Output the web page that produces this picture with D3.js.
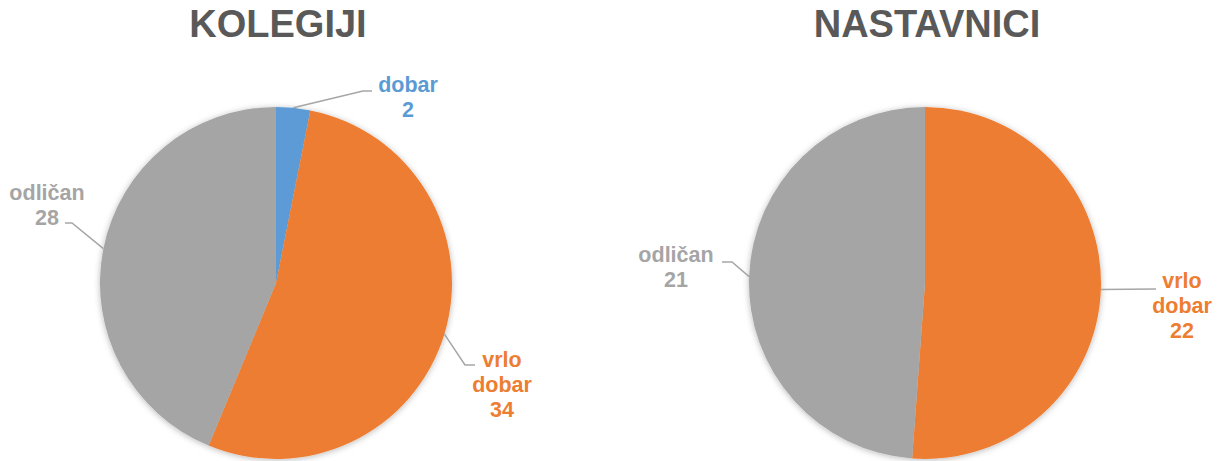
<!DOCTYPE html>
<html lang="hr">
<head>
<meta charset="UTF-8">
<title>Kolegiji / Nastavnici</title>
<script src="https://cdn.jsdelivr.net/npm/d3@7"></script>
<style>
    html, body { margin: 0; padding: 0; background: #ffffff; }
    svg { display: block; font-family: "Liberation Sans", Arial, sans-serif; }
</style>
</head>
<body>
<svg id="chart" width="1224" height="461"></svg>
<script>
// podaci
var categories = ['dobar', 'vrlo dobar', 'odličan'];
var kolegijiValues = [2, 34, 28];
var nastavniciValues = [0, 22, 21];
var titles = ['KOLEGIJI', 'NASTAVNICI'];

var colors = d3.scaleOrdinal()
    .domain(categories)
    .range(['#5b9bd5', '#ed7d31', '#a5a5a5']);

var svg = d3.select('#chart');

// sjena oko pite
var defs = svg.append('defs');
var f = defs.append('filter').attr('id', 'shadow')
    .attr('x', '-20%').attr('y', '-20%').attr('width', '140%').attr('height', '140%');
f.append('feDropShadow')
    .attr('dx', 0).attr('dy', 1)
    .attr('stdDeviation', 3)
    .attr('flood-color', '#000').attr('flood-opacity', 0.28);

var radius = 176;

// raspored oznaka (lakat linije, sredina teksta, prvi baseline)
var charts = [
    {
        title: titles[0], values: kolegijiValues, cx: 276, cy: 283, titleX: 278,
        labels: {
            'dobar':      {elbow: [363, 91], end: [372, 91], tx: 408, ty: 92, lines: ['dobar']},
            'vrlo dobar': {elbow: [465, 365], end: [475, 365], tx: 502, ty: 367, lines: ['vrlo', 'dobar']},
            'odličan':    {elbow: [72, 223], end: [65, 223], tx: 47, ty: 200, lines: ['odličan']}
        }
    },
    {
        title: titles[1], values: nastavniciValues, cx: 925, cy: 283, titleX: 927,
        labels: {
            'vrlo dobar': {elbow: null, end: [1156, 289], tx: 1182, ty: 288, lines: ['vrlo', 'dobar']},
            'odličan':    {elbow: [732, 262], end: [722, 262], tx: 676, ty: 262, lines: ['odličan']}
        }
    }
];

var pie = d3.pie().sort(null).value(function (d) { return d.value; });
var arc = d3.arc().innerRadius(0).outerRadius(radius);

charts.forEach(function (c) {
    var data = categories.map(function (k, i) { return {key: k, value: c.values[i]}; });
    var arcs = pie(data);

    svg.append('text')
        .attr('x', c.titleX)
        .attr('y', 37)
        .attr('text-anchor', 'middle')
        .attr('font-size', 38)
        .attr('font-weight', 'bold')
        .attr('fill', '#595959')
        .text(c.title);

    var g = svg.append('g').attr('transform', 'translate(' + c.cx + ',' + c.cy + ')');

    g.append('g').attr('filter', 'url(#shadow)')
        .selectAll('path')
        .data(arcs.filter(function (a) { return a.value > 0; }))
        .join('path')
        .attr('d', arc)
        .attr('fill', function (a) { return colors(a.data.key); });

    arcs.forEach(function (a) {
        var lab = c.labels[a.data.key];
        if (!lab || a.value === 0) return;
        var mid = (a.startAngle + a.endAngle) / 2;
        var px = c.cx + radius * Math.sin(mid);
        var py = c.cy - radius * Math.cos(mid);
        var pts = [[px, py]];
        if (lab.elbow) pts.push(lab.elbow);
        pts.push(lab.end);

        svg.append('path')
            .attr('d', d3.line()(pts))
            .attr('fill', 'none')
            .attr('stroke', '#a6a6a6')
            .attr('stroke-width', 1.5);

        var lines = lab.lines.concat([String(a.value)]);
        var t = svg.append('text')
            .attr('text-anchor', 'middle')
            .attr('font-size', 21.5)
            .attr('font-weight', 'bold')
            .attr('fill', colors(a.data.key));
        lines.forEach(function (s, i) {
            t.append('tspan')
                .attr('x', lab.tx)
                .attr('y', lab.ty + i * 25)
                .text(s);
        });
    });
});
</script>
</body>
</html>
